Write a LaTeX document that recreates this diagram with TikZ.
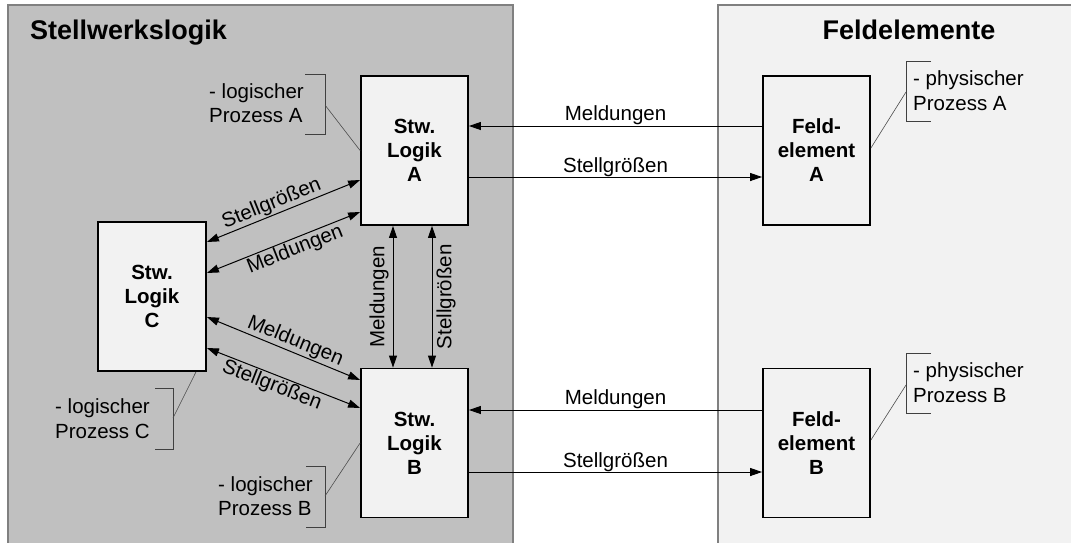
\documentclass[tikz,border=0pt]{standalone}
\usepackage{fontspec}
\setmainfont{Liberation Sans}
\usetikzlibrary{arrows.meta}
\definecolor{panelL}{HTML}{C0C0C0}
\definecolor{panelR}{HTML}{F2F2F2}
\definecolor{boxfill}{HTML}{F2F2F2}
\definecolor{frame}{HTML}{808080}
\begin{document}
\begin{tikzpicture}[x=1pt,y=-1pt,
  panel/.style={draw=frame,line width=2pt},
  block/.style={draw=black,fill=boxfill,line width=1.8pt,minimum width=107pt,
    minimum height=149pt,inner sep=0pt,align=center,
    font=\fontsize{20.5}{24}\selectfont\bfseries},
  title/.style={font=\fontsize{27}{31}\selectfont\bfseries,anchor=base west,inner sep=0pt},
  txt/.style={font=\fontsize{20.5}{24}\selectfont,anchor=base west,inner sep=0pt},
  tip/.tip={Triangle[length=12pt,width=8pt]},
  flow/.style={line width=1pt,-tip},
  both/.style={line width=1pt,tip-tip},
  lbl/.style={font=\fontsize{20.5}{24}\selectfont,inner sep=1pt},
  brace/.style={draw=black!75,line width=0.9pt},
  callout/.style={draw=black!70,line width=0.6pt},
]
\useasboundingbox (0,0) rectangle (1071,542);

% the two areas
\fill[panelL] (8,5) rectangle (513,560);
\draw[panel] (8,560) -- (8,5) -- (513,5) -- (513,560);
\fill[panelR] (718,5) rectangle (1090,560);
\draw[panel] (718,560) -- (718,5) -- (1090,5);

\node[title] (tL) at (30,39) {Stellwerkslogik};
\node[title,anchor=base] (tR) at (909,39) {Feldelemente};

% blocks
\node[block] (A) at (414.5,150.5) {Stw.\\Logik\\A};
\node[block] (B) at (414.5,443) {Stw.\\Logik\\B};
\node[block,minimum width=108pt] (C) at (152,296.5) {Stw.\\Logik\\C};
\node[block] (FA) at (816.5,150.5) {Feld-\\element\\A};
\node[block] (FB) at (816.5,443) {Feld-\\element\\B};

% signals between logic and field elements
\draw[flow] ([yshift=24.5pt]FA.west) -- node[lbl,above]{Meldungen} ([yshift=24.5pt]A.east);
\draw[flow] ([yshift=-26.5pt]A.east) -- node[lbl,above,inner sep=0pt]{Stellgrößen} ([yshift=-26.5pt]FA.west);
\draw[flow] ([yshift=33pt]FB.west) -- node[lbl,above]{Meldungen} ([yshift=33pt]B.east);
\draw[flow] ([yshift=-29pt]B.east) -- node[lbl,above,inner sep=0pt]{Stellgrößen} ([yshift=-29pt]FB.west);

% exchange between A and B
\draw[both] ([xshift=-21.5pt]B.north) -- node[lbl,rotate=90,anchor=south,inner sep=4pt]{Meldungen} ([xshift=-21.5pt]A.south);
\draw[both] ([xshift=17.5pt]B.north) -- node[lbl,rotate=90,anchor=north,inner sep=4pt]{Stellgrößen} ([xshift=17.5pt]A.south);

% exchange with C
\draw[both] ([yshift=54.5pt]C.east) -- node[lbl,above,sloped,pos=0.45]{Stellgrößen} ([yshift=-29.5pt]A.west);
\draw[both] ([yshift=23.5pt]C.east) -- node[lbl,below,sloped,pos=0.55]{Meldungen} ([yshift=-61.5pt]A.west);
\draw[both] ([yshift=-20.5pt]C.east) -- node[lbl,above,sloped,pos=0.55]{Meldungen} ([yshift=63pt]B.west);
\draw[both] ([yshift=-51.5pt]C.east) -- node[lbl,below,sloped,pos=0.45]{Stellgrößen} ([yshift=35pt]B.west);

% process annotations
\draw[brace] (305,74) -- (325,74) -- (325,134) -- (305,134);
\coordinate (bA) at (325,105);
\draw[callout] (bA) -- (A.west);
\node[txt] (pA1) at (209,98) {- logischer};
\node[txt] (pA2) at (209,122) {Prozess A};

\draw[brace] (155,388) -- (173,388) -- (173,449) -- (155,449);
\coordinate (bC) at (173,418);
\draw[callout] (bC) -- ([xshift=44pt]C.south);
\node[txt] (pC1) at (55,413) {- logischer};
\node[txt] (pC2) at (55,438) {Prozess C};

\draw[brace] (306,466) -- (325,466) -- (325,527) -- (306,527);
\coordinate (bB) at (325,496);
\draw[callout] (bB) -- (B.west);
\node[txt] (pB1) at (218,491) {- logischer};
\node[txt] (pB2) at (218,515) {Prozess B};

\draw[brace] (931,61) -- (906,61) -- (906,121) -- (931,121);
\coordinate (bFA) at (906,92);
\draw[callout] (bFA) -- ([yshift=2.5pt]FA.east);
\node[txt] (fA1) at (913,85) {- physischer};
\node[txt] (fA2) at (913,110) {Prozess A};

\draw[brace] (931,353) -- (906,353) -- (906,413) -- (931,413);
\coordinate (bFB) at (906,385);
\draw[callout] (bFB) -- ([yshift=3pt]FB.east);
\node[txt] (fB1) at (913,377) {- physischer};
\node[txt] (fB2) at (913,402) {Prozess B};
\end{tikzpicture}
\end{document}
